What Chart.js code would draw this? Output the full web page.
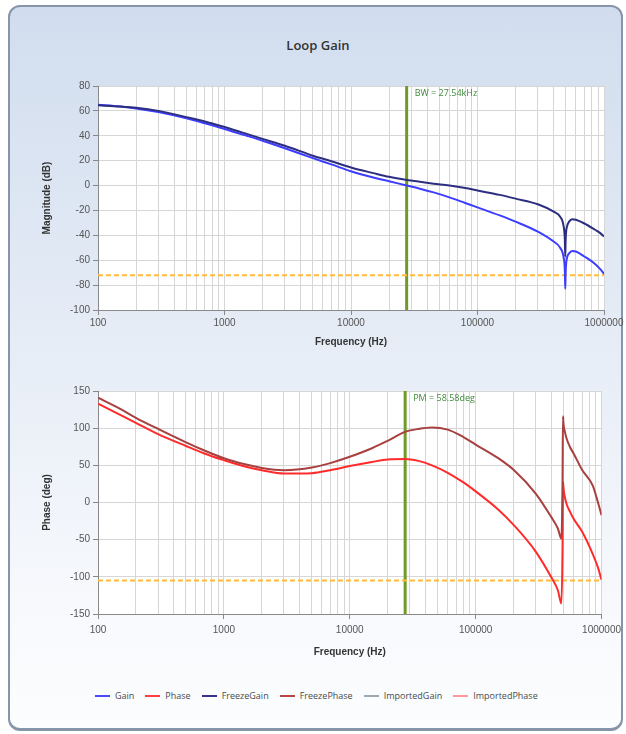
<!DOCTYPE html>
<html lang="en">
<head>
  <meta charset="UTF-8">
  <title>Loop Gain</title>
  <script src="https://cdn.jsdelivr.net/npm/chart.js"></script>
  <style>
    body { margin: 0; width: 626px; height: 734px; background: #fff; position: relative; overflow: hidden; font-family: "Open Sans", sans-serif; }
    #frame {
      position: absolute; left: 8px; top: 5px; width: 615px; height: 726px; box-sizing: border-box;
      border: 2px solid #8795ab; border-bottom-width: 3px; border-radius: 12px;
      background: linear-gradient(#d1ddee 0%, #e5ecf6 45%, #f6f8fc 80%, #fcfdfe 100%);
    }
    #title { position: absolute; left: 0; width: 636px; top: 36px; text-align: center; font-size: 13px; font-weight: 600; color: #333; }
    canvas { position: absolute; left: 0; }
    #legend { position: absolute; top: 689px; left: 95px; display: flex; align-items: center; font-size: 9px; color: #4a4a4a; }
    #legend span.sw { display: inline-block; width: 15px; height: 2px; margin-right: 5px; }
    #legend span.lb { margin-right: 11px; }
  </style>
</head>
<body>
  <div id="frame"></div>
  <div id="title">Loop Gain</div>
  <canvas id="mag-chart" width="626" height="360" style="top:0px"></canvas>
  <canvas id="phase-chart" width="626" height="300" style="top:360px"></canvas>
  <div id="legend"></div>

  <script>
    // frequency points (Hz)
    const freqs = [100, 150, 200, 300, 500, 700, 1000, 1500, 2000, 3000, 5000, 7000, 10000, 15000, 20000, 27540,
      35000, 45000, 60000, 80000, 100000, 150000, 200000, 300000, 400000, 450000, 480000, 490000, 494000, 497000,
      500000, 510000, 530000, 560000, 600000, 700000, 850000, 930000, 1000000];

    // magnitude (dB)
    const gain = [65, 63.5, 62, 59, 54, 50, 45.5, 40, 36, 30, 22, 17, 11.5, 6.5, 3.5, 0,
      -2.5, -5.5, -9.5, -14, -17.5, -24, -29, -37, -45, -50, -58, -68, -83, -72,
      -65, -58, -54.5, -52.5, -53, -57, -63, -67, -71];
    const freezeGain = [64.5, 63.5, 62.5, 60, 55, 51.5, 47, 41.5, 37.5, 32, 24, 19.5, 14.5, 10, 7, 4.5,
      3, 1.5, 0, -2, -4, -7.5, -10.5, -15, -21, -25, -33, -43, -57, -46,
      -39, -33, -29, -27, -27.5, -30.5, -35.5, -38, -41];

    // phase (deg)
    const phase = [133, 118, 107, 92, 76, 66, 57, 48, 43.5, 39, 39.5, 43.5, 49, 54.5, 58, 58.6,
      56, 50, 40, 27, 15, -9, -30, -66, -101, -118, -136, -60, 28, 23,
      18, 8, -3, -12, -22, -39, -69, -86, -104];
    const freezePhase = [141, 126, 114, 99, 81, 70, 59.5, 51, 46.5, 43.5, 47, 53, 61.5, 73, 83, 95,
      99, 101, 98, 88, 78, 60, 44, 12, -20, -35, -49, 30, 116, 110,
      104, 96, 85, 75, 66, 44, 23, 2, -17];

    // markers
    const bwFreq = 27540;
    const gainMarginLine = -72;
    const phaseMarginLine = -105;
    const bwLabel = 'BW = 27.54kHz';
    const pmLabel = 'PM = 58.58deg';

    const magTicks = [-100, -80, -60, -40, -20, 0, 20, 40, 60, 80];
    const phaseTicks = [-150, -100, -50, 0, 50, 100, 150];

    const legendNames = ['Gain', 'Phase', 'FreezeGain', 'FreezePhase', 'ImportedGain', 'ImportedPhase'];
    const legendColors = ['#4a4aff', '#ff4040', '#34348f', '#b84444', '#a0a8b2', '#ff9a9a'];

    const toXY = ys => freqs.map((f, i) => ({ x: f, y: ys[i] }));
    const isDecade = v => Math.abs(Math.log10(v) - Math.round(Math.log10(v))) < 1e-9;

    // white plot area
    const plotBg = {
      id: 'plotBg',
      beforeDraw(chart) {
        const { ctx, chartArea: a } = chart;
        ctx.save();
        ctx.fillStyle = '#fff';
        ctx.fillRect(a.left, a.top, a.width, a.height);
        ctx.restore();
      }
    };

    // text next to the green marker line
    const markerText = {
      id: 'markerText',
      afterDatasetsDraw(chart, args, opts) {
        const { ctx, chartArea: a } = chart;
        const x = chart.scales.x.getPixelForValue(bwFreq);
        ctx.save();
        ctx.font = '9px "Open Sans", sans-serif';
        ctx.fillStyle = '#3f8a3a';
        ctx.textBaseline = 'middle';
        ctx.fillText(opts.text, x + 8, a.top + 7);
        ctx.restore();
      }
    };

    function xScale(labelPad, titlePad, height) {
      return {
        type: 'logarithmic',
        min: 100,
        max: 1000000,
        afterBuildTicks: s => {
          const t = [];
          for (let e = 2; e < 6; e++) for (let m = 1; m < 10; m++) t.push({ value: m * Math.pow(10, e) });
          t.push({ value: 1000000 });
          s.ticks = t;
        },
        afterFit: s => { s.height = height; },
        ticks: {
          autoSkip: false, maxRotation: 0, padding: labelPad, color: '#555',
          font: { family: 'Liberation Sans', size: 10 },
          callback: v => isDecade(v) ? String(Math.round(v)) : ''
        },
        grid: {
          color: '#d6d6d6', tickLength: 5,
          tickColor: c => (c.tick && isDecade(c.tick.value)) ? '#888' : 'rgba(0,0,0,0)'
        },
        border: { color: '#8a8a8a' },
        title: {
          display: true, text: 'Frequency (Hz)', color: '#333',
          font: { family: 'Liberation Sans', size: 10, weight: 'bold' },
          padding: { top: 0, bottom: titlePad }
        }
      };
    }

    function yScale(min, max, step, values, label) {
      return {
        min: min, max: max,
        afterBuildTicks: s => { s.ticks = values.map(v => ({ value: v })); },
        afterFit: s => { s.width = 98; },
        ticks: { stepSize: step, padding: 3, color: '#555', font: { family: 'Liberation Sans', size: 10 } },
        grid: { color: '#d6d6d6', tickLength: 5, tickColor: '#888' },
        border: { color: '#8a8a8a' },
        title: {
          display: true, text: label, color: '#333',
          font: { family: 'Liberation Sans', size: 10, weight: 'bold' },
          padding: { top: 41, bottom: 0 }
        }
      };
    }

    function hLine(y) {
      return [{ x: 100, y: y }, { x: 1000000, y: y }];
    }

    const curve = (label, data, color) => ({
      label: label, data: toXY(data), borderColor: color, borderWidth: 2,
      pointRadius: 0, cubicInterpolationMode: 'monotone', order: 1
    });
    const refLine = y => ({
      label: 'margin', data: hLine(y), borderColor: '#ffbb3c', borderWidth: 2,
      borderDash: [5, 3], pointRadius: 0, order: 2
    });
    const bwLine = (lo, hi) => ({
      label: 'bw', data: [{ x: bwFreq, y: lo }, { x: bwFreq, y: hi }],
      borderColor: '#6e9a26', borderWidth: 3, pointRadius: 0, order: 3
    });

    const common = {
      responsive: false,
      animation: false,
      parsing: false,
      plugins: { legend: { display: false }, tooltip: { enabled: false } }
    };

    new Chart(document.getElementById('mag-chart'), {
      type: 'line',
      data: {
        datasets: [
          curve('FreezeGain', freezeGain, '#2e2e80'),
          curve('Gain', gain, '#3d3dff'),
          refLine(gainMarginLine),
          bwLine(-100, 80)
        ]
      },
      options: Object.assign({}, common, {
        layout: { padding: { left: 0, right: 22, top: 86, bottom: 0 } },
        scales: { x: xScale(2, 12, 50), y: yScale(-100, 80, 20, magTicks, 'Magnitude (dB)') },
        plugins: Object.assign({}, common.plugins, { markerText: { text: bwLabel } })
      }),
      plugins: [plotBg, markerText]
    });

    new Chart(document.getElementById('phase-chart'), {
      type: 'line',
      data: {
        datasets: [
          curve('FreezePhase', freezePhase, '#a84040'),
          curve('Phase', phase, '#ff2b2b'),
          refLine(phaseMarginLine),
          bwLine(-150, 150)
        ]
      },
      options: Object.assign({}, common, {
        layout: { padding: { left: 0, right: 22, top: 31, bottom: 0 } },
        scales: { x: xScale(5, 2, 46), y: yScale(-150, 150, 50, phaseTicks, 'Phase (deg)') },
        plugins: Object.assign({}, common.plugins, { markerText: { text: pmLabel } })
      }),
      plugins: [plotBg, markerText]
    });

    // legend row
    const legend = document.getElementById('legend');
    legendNames.forEach((name, i) => {
      const sw = document.createElement('span');
      sw.className = 'sw';
      sw.style.background = legendColors[i];
      const lb = document.createElement('span');
      lb.className = 'lb';
      lb.textContent = name;
      legend.appendChild(sw);
      legend.appendChild(lb);
    });
  </script>
</body>
</html>
